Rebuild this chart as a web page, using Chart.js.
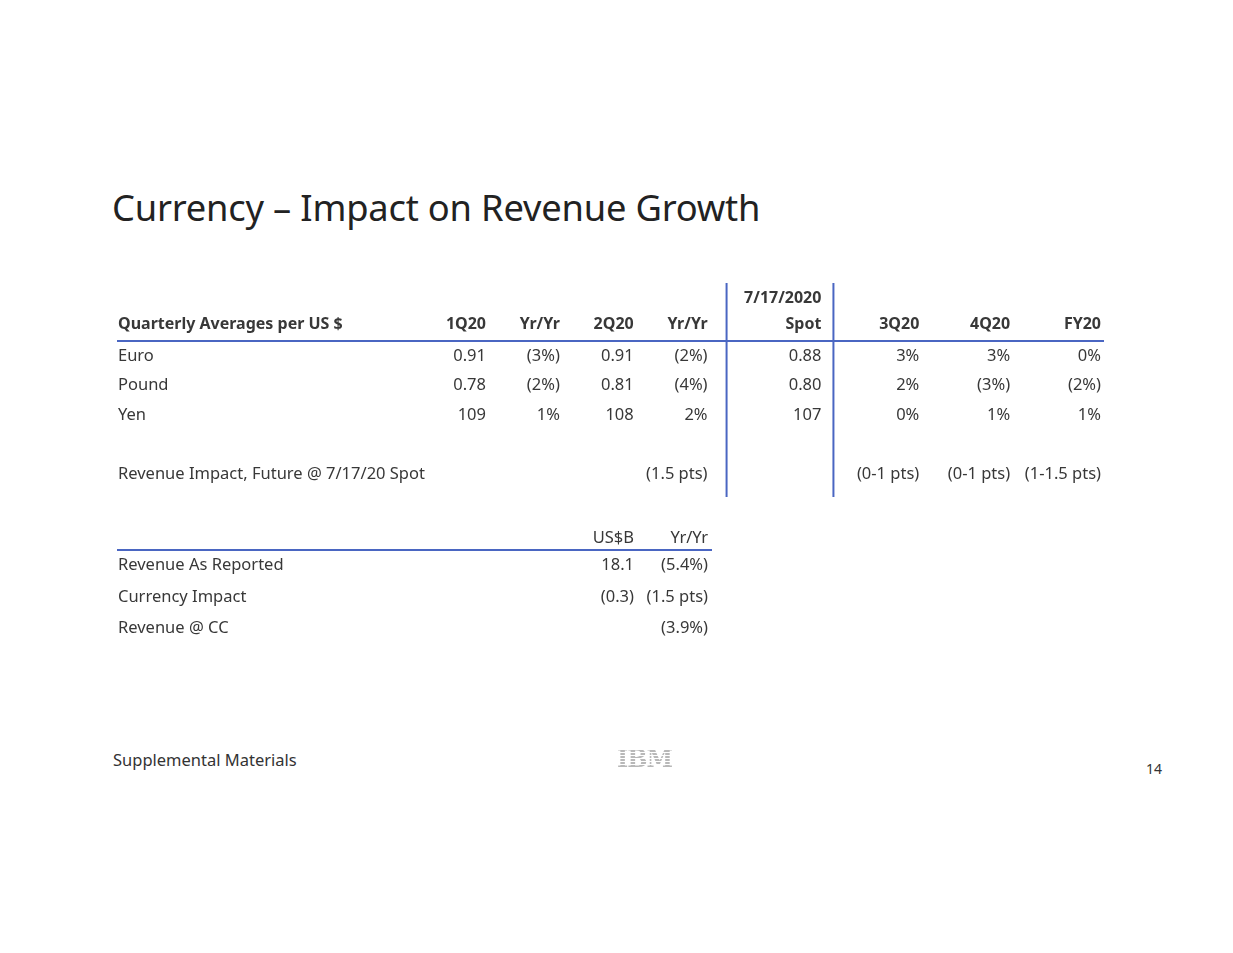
<!DOCTYPE html>
<html>
<head>
<meta charset="utf-8">
<script src="https://cdn.jsdelivr.net/npm/chart.js@4.4.1/dist/chart.umd.min.js"></script>
<style>
  body { margin: 0; background: #fff; font-family: "Noto Sans", sans-serif; }
  #page { position: relative; width: 1233px; height: 953px; overflow: hidden; }
  #title { position: absolute; left: 112px; top: 182px; font-size: 36.3px; color: #222; letter-spacing: -0.2px; }
  #fxTable { position: absolute; left: 0; top: 260px; }
  #revTable { position: absolute; left: 0; top: 515px; }
  #footer { position: absolute; left: 113px; top: 748px; font-size: 16.5px; color: #333; }
  #logo { position: absolute; left: 617px; top: 744px; font-family: "DejaVu Serif", serif; font-weight: bold;
          font-size: 24px; letter-spacing: -1px; color: transparent;
          background: repeating-linear-gradient(to bottom, #b8b8b8 0 2px, #fff 2px 3px);
          -webkit-background-clip: text; background-clip: text; }
  #pageNo { position: absolute; left: 1146px; top: 759px; font-size: 14px; color: #333; }
</style>
</head>
<body>
<div id="page">
  <div id="title">Currency – Impact on Revenue Growth</div>
  <canvas id="fxTable" width="1233" height="260"></canvas>
  <canvas id="revTable" width="1233" height="140"></canvas>
  <div id="footer">Supplemental Materials</div>
  <div id="logo">IBM</div>
  <div id="pageNo">14</div>
</div>
<script>
// upper table
const fxColumns = ['1Q20', 'Yr/Yr', '2Q20', 'Yr/Yr', ['7/17/2020', 'Spot'], '3Q20', '4Q20', 'FY20'];
const fxRows = ['Euro', 'Pound', 'Yen', '', 'Revenue Impact, Future @ 7/17/20 Spot'];
const avg1Q20 = [0.91, 0.78, 109];
const yy1Q20 = [-3, -2, 1];
const avg2Q20 = [0.91, 0.81, 108];
const yy2Q20 = [-2, -4, 2];
const spot = [0.88, 0.80, 107];
const fx3Q20 = [3, 2, 0];
const fx4Q20 = [3, -3, 1];
const fxFY20 = [0, -2, 1];
const impactRow = ['', '', '', '(1.5 pts)', '', '(0-1 pts)', '(0-1 pts)', '(1-1.5 pts)'];

// lower table
const revColumns = ['US$B', 'Yr/Yr'];
const revRows = ['Revenue As Reported', 'Currency Impact', 'Revenue @ CC'];
const revUSD = [18.1, -0.3, null];
const revYY = ['(5.4%)', '(1.5 pts)', '(3.9%)'];

const BLUE = '#4a66c2';
const TEXT = '#383838';
const BODY_SIZE = 16.5;
const BODY_FONT = BODY_SIZE + 'px "Noto Sans"';
const HEAD_FONT = 'bold 16px "Noto Sans"';

function fmtRate(v) {
  return v >= 10 ? v.toFixed(0) : v.toFixed(2);
}
function fmtPct(v) {
  return v < 0 ? '(' + (-v) + '%)' : v + '%';
}
function fmtUsd(v) {
  if (v === null) return '';
  return v < 0 ? '(' + (-v).toFixed(1) + ')' : v.toFixed(1);
}

const fxCells = [
  avg1Q20.map(fmtRate), yy1Q20.map(fmtPct), avg2Q20.map(fmtRate), yy2Q20.map(fmtPct),
  spot.map(fmtRate), fx3Q20.map(fmtPct), fx4Q20.map(fmtPct), fxFY20.map(fmtPct)
];
// columns are not evenly spaced in the slide
const fxShift = [0, -14, -28, -42, -16, -6, -3, 0];

const tablePlugin = {
  id: 'tableText',
  afterDraw(chart, args, opts) {
    const ctx = chart.ctx;
    const x = chart.scales.x, y = chart.scales.y;
    const area = chart.chartArea;
    const colX = i => x.getPixelForValue(i) + (opts.shift ? opts.shift[i] : 0);
    ctx.save();
    ctx.textBaseline = 'middle';
    ctx.fillStyle = TEXT;

    // headers
    ctx.font = opts.headFont;
    ctx.textAlign = 'right';
    const headY = y.getPixelForValue(0) - opts.headGap;
    opts.columns.forEach((c, i) => {
      const lines = Array.isArray(c) ? c : [c];
      lines.slice().reverse().forEach((l, k) => {
        ctx.fillText(l, colX(i), headY - k * 26);
      });
    });
    if (opts.rowHeader) {
      ctx.textAlign = 'left';
      ctx.fillText(opts.rowHeader, y.left, headY);
    }

    // cells
    ctx.font = BODY_FONT;
    ctx.textAlign = 'right';
    opts.cells.forEach((col, i) => {
      col.forEach((v, r) => ctx.fillText(v, colX(i), y.getPixelForValue(r)));
    });
    if (opts.extraRow) {
      opts.extraRow.values.forEach((v, i) => {
        if (v) ctx.fillText(v, colX(i), y.getPixelForValue(opts.extraRow.index));
      });
    }

    // rules
    ctx.strokeStyle = BLUE;
    ctx.lineWidth = 2;
    ctx.beginPath();
    ctx.moveTo(y.left - 1, Math.round(area.top));
    ctx.lineTo(opts.ruleRight(colX), Math.round(area.top));
    ctx.stroke();
    (opts.dividers || []).forEach(d => {
      const px = colX(d.after) + d.gap;
      ctx.beginPath();
      ctx.moveTo(px, area.top - 58);
      ctx.lineTo(px, area.bottom + 8);
      ctx.stroke();
    });
    ctx.restore();
  }
};

function tableScales(rows, axisWidth) {
  return {
    x: { type: 'category', display: false, offset: false },
    y: {
      type: 'category', labels: rows, offset: true,
      grid: { display: false }, border: { display: false },
      ticks: { crossAlign: 'far', color: TEXT, font: { family: 'Noto Sans', size: BODY_SIZE }, padding: 0 },
      afterFit: s => { s.width = axisWidth; }
    }
  };
}

new Chart(document.getElementById('fxTable'), {
  type: 'line',
  data: { labels: fxColumns.map(String), datasets: [] },
  options: {
    responsive: false,
    animation: false,
    layout: { padding: { left: 118, right: 132, top: 81, bottom: 31 } },
    scales: tableScales(fxRows, 368),
    plugins: {
      legend: { display: false },
      tooltip: { enabled: false },
      tableText: {
        columns: fxColumns,
        cells: fxCells,
        shift: fxShift,
        headFont: HEAD_FONT,
        headGap: 31,
        rowHeader: 'Quarterly Averages per US $',
        extraRow: { index: 4, values: impactRow },
        ruleRight: colX => colX(7) + 3,
        dividers: [{ after: 3, gap: 19 }, { after: 4, gap: 12 }]
      }
    }
  },
  plugins: [tablePlugin]
});

new Chart(document.getElementById('revTable'), {
  type: 'line',
  data: { labels: revColumns, datasets: [] },
  options: {
    responsive: false,
    animation: false,
    layout: { padding: { left: 118, right: 525, top: 35, bottom: 11 } },
    scales: tableScales(revRows, 516),
    plugins: {
      legend: { display: false },
      tooltip: { enabled: false },
      tableText: {
        columns: revColumns,
        cells: [revUSD.map(fmtUsd), revYY],
        headFont: BODY_FONT,
        headGap: 27,
        ruleRight: colX => colX(1) + 4
      }
    }
  },
  plugins: [tablePlugin]
});
</script>
</body>
</html>
